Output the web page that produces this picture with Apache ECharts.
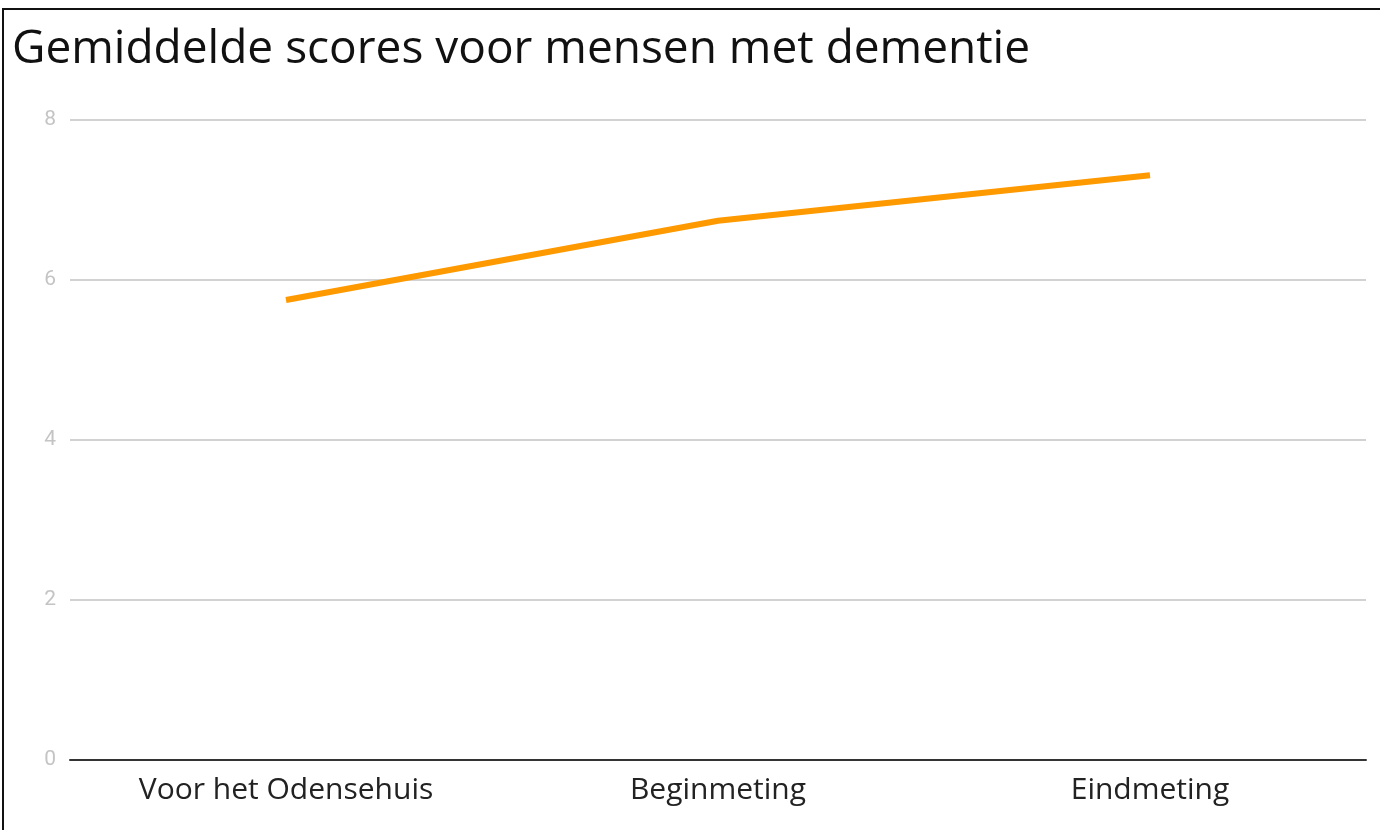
<!DOCTYPE html>
<html>
<head>
<meta charset="utf-8">
<script src="https://cdn.jsdelivr.net/npm/echarts@6/dist/echarts.min.js"></script>
<style>
html,body{margin:0;padding:0;background:#fff;}
#chart{position:absolute;left:0;top:0;width:1380px;height:830px;}
#frame{position:absolute;left:2px;top:8px;width:1378px;height:822px;border-top:2px solid #111;border-left:2px solid #111;box-sizing:border-box;pointer-events:none;}
</style>
</head>
<body>
<div id="chart"></div>
<div id="frame"></div>
<script>
const title = 'Gemiddelde scores voor mensen met dementie';
const categories = ['Voor het Odensehuis', 'Beginmeting', 'Eindmeting'];
const scores = [5.75, 6.74, 7.31];
const yTicks = { min: 0, max: 8, interval: 2 };

const chart = echarts.init(document.getElementById('chart'));
chart.setOption({
  animation: false,
  backgroundColor: '#fff',
  title: {
    text: title,
    left: 7,
    top: 22,
    textStyle: { fontFamily: 'Open Sans', fontWeight: 'normal', fontSize: 46, color: '#111' }
  },
  grid: { left: 70, right: 14, top: 120, bottom: 70 },
  xAxis: {
    type: 'category',
    data: categories,
    boundaryGap: true,
    axisLine: { lineStyle: { color: '#333', width: 2 } },
    axisTick: { show: false },
    axisLabel: { fontFamily: 'Open Sans', fontSize: 30, color: '#222', margin: 15 }
  },
  yAxis: {
    type: 'value',
    min: yTicks.min, max: yTicks.max, interval: yTicks.interval,
    axisLine: { show: false },
    axisTick: { show: false },
    axisLabel: { fontFamily: 'Roboto', fontSize: 21, color: '#c4c4c4', margin: 14 },
    splitLine: { lineStyle: { color: '#d2d2d2', width: 2 } }
  },
  series: [{
    type: 'line',
    data: scores,
    symbol: 'none',
    lineStyle: { color: '#ff9900', width: 6 }
  }]
});
</script>
</body>
</html>
